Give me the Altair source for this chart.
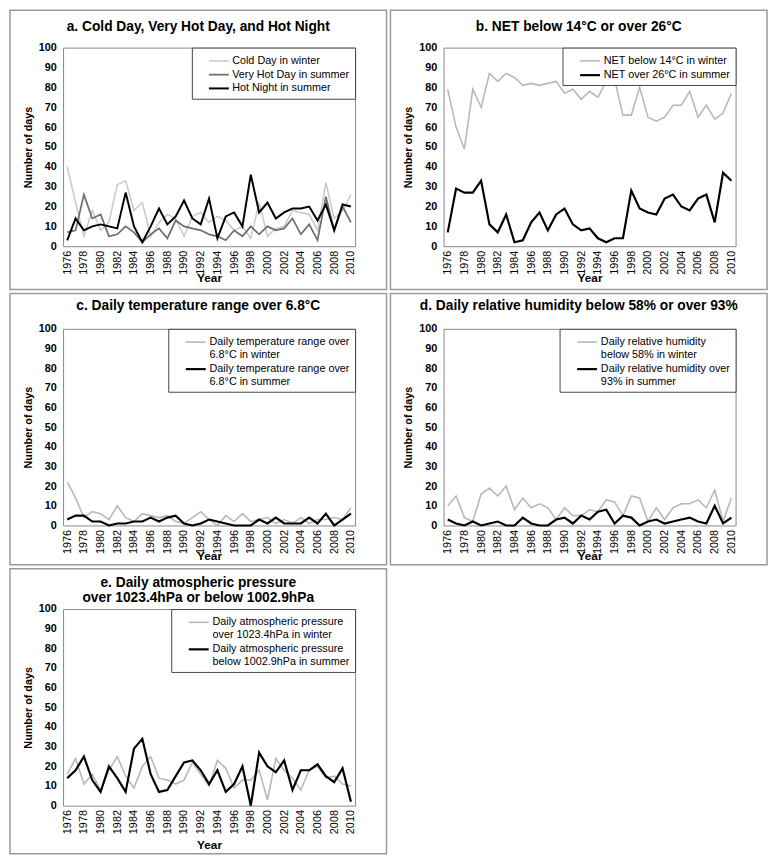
import altair as alt
import pandas as pd

FONT = "Liberation Sans"
years = list(range(1976, 2011))
year_ticks = list(range(1976, 2011, 2))

# ---- panel a ----
a_cold_day_winter = [40, 22, 5, 18, 8, 12, 31, 33, 18, 22, 5, 12, 16, 14, 5, 15, 17, 12, 15, 13,
                     8, 10, 4, 22, 5, 9, 10, 18, 17, 16, 8, 32, 14, 18, 26]
a_very_hot_day_summer = [7, 8, 26, 14, 16, 5, 6, 10, 7, 2, 6, 9, 4, 13, 10, 9, 8, 6, 5, 3,
                         8, 5, 10, 6, 10, 8, 9, 14, 6, 11, 3, 25, 8, 20, 12]
a_hot_night_summer = [3, 14, 8, 10, 11, 10, 9, 27, 10, 2, 10, 19, 11, 15, 23, 14, 11, 24, 4, 15,
                      17, 10, 36, 17, 22, 14, 17, 19, 19, 20, 13, 21, 8, 21, 20]
# ---- panel b ----
b_net_below_winter = [79, 60, 49, 79, 70, 87, 83, 87, 85, 81, 82, 81, 82, 83, 77, 79, 74, 78, 75, 83,
                      84, 66, 66, 80, 65, 63, 65, 71, 71, 78, 65, 71, 64, 67, 77]
b_net_over_summer = [7, 29, 27, 27, 33, 11, 7, 16, 2, 3, 12, 17, 8, 16, 19, 11, 8, 9, 4, 2,
                     4, 4, 28, 19, 17, 16, 24, 26, 20, 18, 24, 26, 12, 37, 33]
# ---- panel c ----
c_dtr_winter = [22, 14, 4, 7, 6, 3, 10, 4, 2, 6, 5, 4, 5, 2, 1, 4, 7, 3, 0, 5,
                2, 6, 2, 3, 4, 1, 3, 1, 4, 1, 3, 3, 4, 3, 9]
c_dtr_summer = [3, 5, 5, 2, 2, 0, 1, 1, 2, 2, 4, 2, 4, 5, 1, 0, 1, 3, 2, 1,
                0, 0, 0, 3, 1, 4, 1, 1, 1, 4, 1, 6, 0, 3, 6]
# ---- panel d ----
d_rh_below_winter = [10, 15, 4, 2, 16, 19, 15, 20, 8, 14, 9, 11, 9, 3, 9, 5, 5, 8, 7, 13,
                     12, 5, 15, 14, 2, 9, 3, 9, 11, 11, 13, 9, 18, 2, 14]
d_rh_over_summer = [3, 1, 0, 2, 0, 1, 2, 0, 0, 4, 1, 0, 0, 3, 4, 1, 5, 3, 7, 8,
                    1, 5, 4, 0, 2, 3, 1, 2, 3, 4, 2, 1, 10, 1, 4]
# ---- panel e ----
e_p_over_winter = [16, 24, 11, 16, 8, 18, 25, 15, 9, 20, 25, 14, 13, 11, 13, 22, 16, 10, 23, 19,
                   9, 13, 13, 18, 3, 24, 18, 14, 8, 18, 20, 14, 15, 11, 10]
e_p_below_summer = [14, 18, 25, 13, 7, 20, 14, 7, 29, 34, 16, 7, 8, 15, 22, 23, 18, 11, 18, 7,
                    11, 20, 0, 27, 20, 17, 23, 8, 18, 18, 21, 15, 12, 19, 2]

titles = {
    "a": "a. Cold Day, Very Hot Day, and Hot Night",
    "b": "b. NET below 14°C or over 26°C",
    "c": "c. Daily temperature range over 6.8°C",
    "d": "d. Daily relative humidity below 58% or over 93%",
    "e": ["e. Daily atmospheric pressure", "over 1023.4hPa or below 1002.9hPa"],
}

LIGHT = "#b8b8b8"
MID = "#6e6e6e"
BLACK = "#000000"

PLOT_W = 297
BOX_L = -54
BOX_R = PLOT_W + 32


def panel(title, series, colors, widths, height, box_top, box_bottom,
          x_title_pad, title_y, row_pad):
    rows = []
    for name, vals in series:
        for yr, v in zip(years, vals):
            rows.append({"year": yr, "days": v, "series": name})
    df = pd.DataFrame(rows)
    names = [s[0] for s in series]

    lines = alt.Chart(df).mark_line().encode(
        x=alt.X("year:Q",
                scale=alt.Scale(domain=[1975.5, 2010.5], nice=False, zero=False),
                axis=alt.Axis(values=year_ticks, format="d", labelAngle=270,
                              labelAlign="right", labelBaseline="middle",
                              labelFontSize=11, labelPadding=4,
                              title="Year", titleFontSize=12, titlePadding=x_title_pad)),
        y=alt.Y("days:Q",
                scale=alt.Scale(domain=[0, 100], nice=False),
                axis=alt.Axis(values=list(range(0, 101, 10)), labelFontWeight="bold",
                              labelFontSize=11, labelPadding=7,
                              title="Number of days", titleFontSize=11, titlePadding=5)),
        color=alt.Color("series:N", sort=names,
                        scale=alt.Scale(domain=names, range=colors),
                        legend=alt.Legend(title=None, orient="top-right", offset=0,
                                          labelExpr="split(datum.label, '|')",
                                          symbolType="M-1.35,0H1.35", symbolSize=225,
                                          symbolStrokeWidth=2, padding=5,
                                          symbolOffset=14, labelOffset=5,
                                          rowPadding=row_pad,
                                          strokeColor="#444444", fillColor="white",
                                          labelFont=FONT, labelFontSize=11,
                                          labelColor="black", labelLimit=300)),
        strokeWidth=alt.StrokeWidth("series:N", sort=names,
                                    scale=alt.Scale(domain=names, range=widths),
                                    legend=None),
    )

    box = alt.Chart(pd.DataFrame({"k": [0]})).mark_rect(
        fillOpacity=0, stroke="#9a9a9a", strokeWidth=1.5
    ).encode(
        x=alt.value(BOX_L), x2=alt.value(BOX_R),
        y=alt.value(box_top), y2=alt.value(height + box_bottom),
    )

    head = alt.Chart(pd.DataFrame({"k": [0]})).mark_text(
        font=FONT, fontSize=14, fontWeight="bold", color="black",
        align="center", baseline="top", lineHeight=15,
    ).encode(
        x=alt.value((BOX_L + BOX_R) / 2), y=alt.value(title_y),
        text=alt.value(title),
    )

    return alt.layer(box, head, lines).resolve_scale(
        color="independent", strokeWidth="independent"
    ).properties(width=PLOT_W, height=height)


pa = panel(titles["a"],
           [("Cold Day in winter", a_cold_day_winter),
            ("Very Hot Day in summer", a_very_hot_day_summer),
            ("Hot Night in summer", a_hot_night_summer)],
           ["#c8c8c8", MID, BLACK], [1.5, 2.0, 2.2], 202, -38, 44, -2, -28, -2)

pb = panel(titles["b"],
           [("NET below 14°C in winter", b_net_below_winter),
            ("NET over 26°C in summer", b_net_over_summer)],
           [LIGHT, BLACK], [1.6, 2.2], 202, -38, 44, -2, -28, -2)

pc = panel(titles["c"],
           [("Daily temperature range over|6.8°C in winter", c_dtr_winter),
            ("Daily temperature range over|6.8°C in summer", c_dtr_summer)],
           [LIGHT, BLACK], [1.6, 2.2], 200, -36, 40, -3, -30, -3)

pd_ = panel(titles["d"],
            [("Daily relative humidity|below 58% in winter", d_rh_below_winter),
             ("Daily relative humidity over|93% in summer", d_rh_over_summer)],
            [LIGHT, BLACK], [1.6, 2.2], 200, -36, 40, -3, -30, -3)

pe = panel(titles["e"],
           [("Daily atmospheric pressure|over 1023.4hPa in winter", e_p_over_winter),
            ("Daily atmospheric pressure|below 1002.9hPa in summer", e_p_below_summer)],
           [LIGHT, BLACK], [1.6, 2.2], 200, -41, 49, 6, -33, -3)

row1 = alt.hconcat(pa, pb, spacing=0).resolve_scale(color="independent", strokeWidth="independent")
row2 = alt.hconcat(pc, pd_, spacing=0).resolve_scale(color="independent", strokeWidth="independent")

chart = alt.vconcat(row1, row2, pe, spacing=0).resolve_scale(
    color="independent", strokeWidth="independent"
).properties(padding={"left": 0, "top": -7, "right": 0, "bottom": 0}).configure(
    font=FONT,
).configure_view(
    stroke="#888888", strokeWidth=1
).configure_axis(
    domain=False, ticks=False, grid=False,
    labelFont=FONT, titleFont=FONT, labelColor="black", titleColor="black",
    titleFontWeight="bold",
).configure_concat(spacing=0)

chart.save("out.html", embed_options={"renderer": "svg", "actions": False})
